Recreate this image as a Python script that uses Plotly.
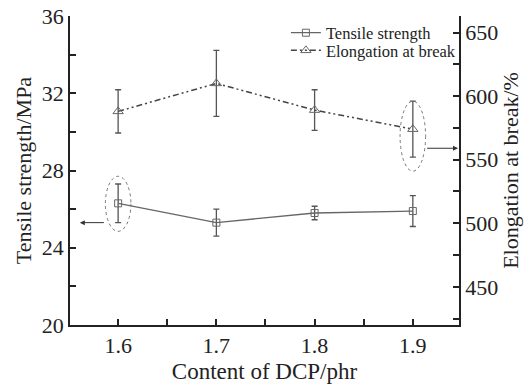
import plotly.graph_objects as go

dcp = [1.6, 1.7, 1.8, 1.9]
tensile = [26.3, 25.3, 25.8, 25.9]
tensile_err = [1.0, 0.7, 0.35, 0.8]
elong = [588, 610, 589, 574]
elong_err = [17, 26, 16, 22]

x_ticks = [1.6, 1.7, 1.8, 1.9]
y1_ticks = [20, 24, 28, 32, 36]
y2_ticks = [450, 500, 550, 600, 650]

FONT = "Liberation Serif, Times New Roman, DejaVu Serif, serif"
LINE = "#666666"
AX = "#222222"

fig = go.Figure()
fig.add_trace(go.Scatter(
    x=dcp, y=tensile, name="Tensile strength", mode="lines+markers", legend="legend",
    line=dict(color=LINE, width=1.3),
    marker=dict(symbol="square-open", size=7, color=LINE, line=dict(width=1)),
    error_y=dict(type="data", array=tensile_err, color="#555555", thickness=1.3, width=3),
))
fig.add_trace(go.Scatter(
    x=dcp, y=elong, name="Elongation at break", mode="lines+markers", yaxis="y2", legend="legend2",
    line=dict(color="#444444", width=1.5, dash="6px,3px,2px,3px,2px,3px"),
    marker=dict(symbol="triangle-up-open", size=9, color=LINE, line=dict(width=1)),
    error_y=dict(type="data", array=elong_err, color="#555555", thickness=1.3, width=3),
))

# dotted ellipses and arrows
fig.add_shape(type="circle", xref="x", yref="y",
              x0=dcp[0] - 0.013, x1=dcp[0] + 0.013, y0=tensile[0] - 1.45, y1=tensile[0] + 1.4,
              line=dict(color="#777777", width=1, dash="dot"))
fig.add_shape(type="circle", xref="x", yref="y2",
              x0=dcp[3] - 0.013, x1=dcp[3] + 0.013, y0=elong[3] - 33, y1=elong[3] + 22,
              line=dict(color="#777777", width=1, dash="dot"))
fig.add_annotation(x=1.561, y=tensile[1], ax=dcp[0] - 0.013, ay=tensile[1],
                   xref="x", yref="y", axref="x", ayref="y", text="",
                   showarrow=True, arrowhead=2, arrowsize=1, arrowwidth=1, arrowcolor="#333333")
fig.add_annotation(x=1.946, y=elong[3] - 15, ax=dcp[3] + 0.013, ay=elong[3] - 15,
                   xref="x", yref="y2", axref="x", ayref="y2", text="",
                   showarrow=True, arrowhead=2, arrowsize=1, arrowwidth=1, arrowcolor="#333333")

tick_common = dict(showgrid=False, zeroline=False, showline=True, linecolor=AX, linewidth=1.5,
                   ticks="inside", ticklen=6, tickcolor=AX, tickwidth=1.5, automargin=False,
                   tickfont=dict(size=22, family=FONT))

leg_common = dict(x=0.555, xanchor="left", yanchor="middle",
                  font=dict(family=FONT, size=16.5, color="#222222"),
                  bgcolor="rgba(0,0,0,0)", itemwidth=30)

fig.update_layout(
    width=531, height=385,
    margin=dict(l=70, r=72, t=16, b=60, autoexpand=False),
    paper_bgcolor="white", plot_bgcolor="white",
    font=dict(family=FONT, color="#222222", size=22),
    showlegend=True,
    legend=dict(y=0.945, **leg_common),
    legend2=dict(y=0.888, **leg_common),
    xaxis=dict(range=[1.551, 1.947], tickvals=x_ticks, ticktext=[str(v) for v in x_ticks],
               minor=dict(tickvals=[1.65, 1.75, 1.85], ticks="inside", ticklen=6, tickcolor=AX, tickwidth=1.5),
               title=dict(text="Content of DCP/phr", font=dict(size=23, family=FONT), standoff=6),
               **tick_common),
    yaxis=dict(range=[20, 36], tickvals=y1_ticks,
               minor=dict(tickvals=[22, 26, 30, 34], ticks="inside", ticklen=6, tickcolor=AX, tickwidth=1.5),
               title=dict(text="Tensile strength/MPa", font=dict(size=22, family=FONT), standoff=4),
               **tick_common),
    yaxis2=dict(range=[420, 663], tickvals=y2_ticks, overlaying="y", side="right",
                minor=dict(tickvals=[425, 475, 525, 575, 625], ticks="inside", ticklen=6, tickcolor=AX, tickwidth=1.5),
                title=dict(text="Elongation at break/%", font=dict(size=22, family=FONT), standoff=4),
                **tick_common),
)

fig.write_html("out.html")
